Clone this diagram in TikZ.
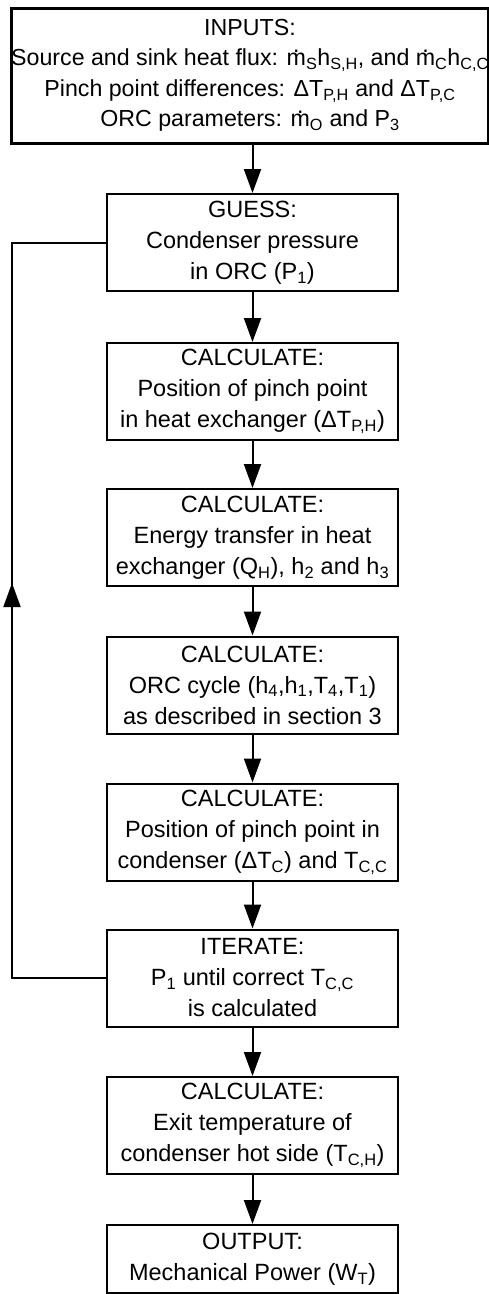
\documentclass[tikz,border=0pt]{standalone}
\usepackage{fontspec}
\setmainfont{Liberation Sans}
\usetikzlibrary{arrows.meta}
\newcommand\mdt{\ooalign{m\cr\hidewidth\raisebox{0.6em}{.}\hidewidth\cr}}
\newcommand\sbs[1]{\textsubscript{#1}}
\tikzset{
  box/.style={draw, line width=2pt, minimum width=291pt, minimum height=97pt, inner sep=0pt, align=center,
    font=\fontsize{23.5}{31}\selectfont},
  topbox/.style={draw, line width=3pt, minimum width=474pt, minimum height=135pt, inner sep=0pt, align=center,
    font=\fontsize{23.2}{30.5}\selectfont},
  arr/.style={line width=2pt, -{Triangle[length=24pt,width=17pt]}},
  lin/.style={line width=2pt}
}
\begin{document}
\begin{tikzpicture}[x=1pt,y=-1pt]
\useasboundingbox (0,0) rectangle (488,1294);
\node[topbox] (in) at (250,75.5) {INPUTS:\\Source and sink heat flux: \mdt\sbs{S}h\sbs{S,H}, and \mdt\sbs{C}h\sbs{C,C}\\Pinch point differences: ΔT\sbs{P,H} and ΔT\sbs{P,C}\\ORC parameters: \mdt\sbs{O} and P\sbs{3}};
\node[box] (b1) at (252.5,242.5) {GUESS:\\Condenser pressure\\in ORC (P\sbs{1})};
\node[box] (b2) at (252.5,391.5) {CALCULATE:\\Position of pinch point\\in heat exchanger (ΔT\sbs{P,H})};
\node[box] (b3) at (252.5,537.5) {CALCULATE:\\Energy transfer in heat\\exchanger (Q\sbs{H}), h\sbs{2} and h\sbs{3}};
\node[box] (b4) at (252.5,685) {CALCULATE:\\ORC cycle (h\sbs{4},h\sbs{1},T\sbs{4},T\sbs{1})\\as described in section 3};
\node[box] (b5) at (252.5,832) {CALCULATE:\\Position of pinch point in\\condenser (ΔT\sbs{C}) and T\sbs{C,C}};
\node[box] (b6) at (252.5,978) {ITERATE:\\P\sbs{1} until correct T\sbs{C,C}\\is calculated};
\node[box] (b7) at (252.5,1125.5) {CALCULATE:\\Exit temperature of\\condenser hot side (T\sbs{C,H})};
\node[box, minimum height=68pt] (b8) at (252.5,1259) {OUTPUT:\\Mechanical Power (W\sbs{T})};
\draw[arr] (in.south -| b1.north) -- (b1.north);
\draw[arr] (b1) -- (b2);
\draw[arr] (b2) -- (b3);
\draw[arr] (b3) -- (b4);
\draw[arr] (b4) -- (b5);
\draw[arr] (b5) -- (b6);
\draw[arr] (b6) -- (b7);
\draw[arr] (b7) -- (b8);
\coordinate (lp1) at (12,978);
\coordinate (lp2) at (12,242.5);
\coordinate (tipL) at (12,583);
\draw[lin] (b6.west) -- (lp1) -- (lp2) -- (b1.west);
\draw[arr] (lp1) -- (tipL);
\end{tikzpicture}
\end{document}
